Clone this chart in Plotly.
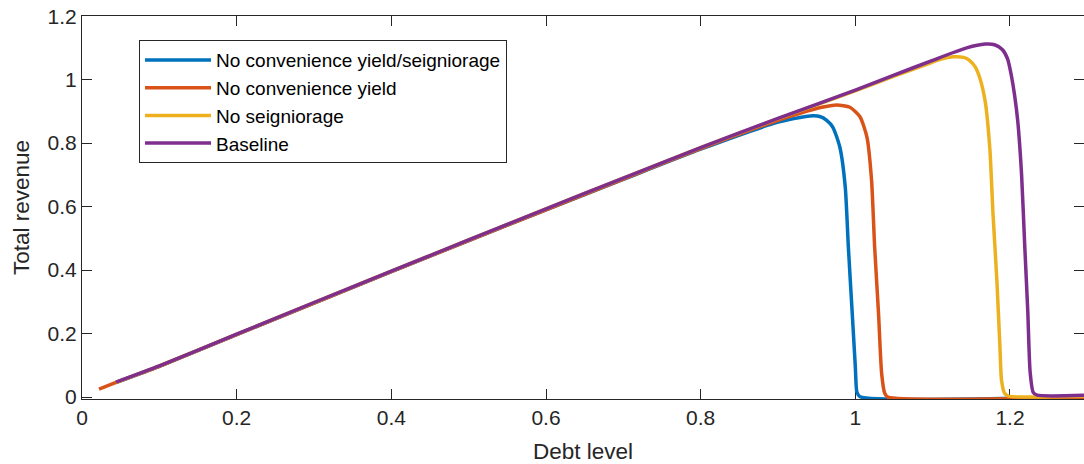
import plotly.graph_objects as go

# ---- data ----
blue_x = [0.044, 0.1, 0.2, 0.3, 0.4, 0.5, 0.6, 0.7, 0.8, 0.9, 0.9285, 0.945, 0.954, 0.963, 0.971, 0.980,
          0.987, 0.991, 0.996, 1.000, 1.002, 1.006, 1.3]
blue_y = [0.046, 0.097, 0.197, 0.296, 0.395, 0.493, 0.590, 0.686, 0.781, 0.866, 0.881, 0.886, 0.884, 0.872,
          0.850, 0.787, 0.661, 0.472, 0.264, 0.095, 0.016, 0.001, 0.001]

orange_x = [0.022, 0.044, 0.1, 0.2, 0.3, 0.4, 0.5, 0.6, 0.7, 0.8, 0.9, 0.9285, 0.955, 0.976, 0.993, 1.006,
            1.015, 1.021, 1.025, 1.030, 1.034, 1.038, 1.042, 1.3]
orange_y = [0.025, 0.046, 0.097, 0.197, 0.296, 0.395, 0.493, 0.590, 0.687, 0.783, 0.872, 0.894, 0.912,
            0.920, 0.913, 0.883, 0.819, 0.683, 0.472, 0.264, 0.075, 0.012, 0.0, 0.0]

yellow_x = [0.044, 0.1, 0.2, 0.3, 0.4, 0.5, 0.6, 0.7, 0.8, 0.9, 1.0, 1.05, 1.088, 1.11, 1.127, 1.140,
            1.148, 1.155, 1.161, 1.168, 1.174, 1.178, 1.183, 1.187, 1.189, 1.193, 1.198, 1.3]
yellow_y = [0.046, 0.098, 0.198, 0.298, 0.397, 0.495, 0.593, 0.690, 0.786, 0.877, 0.965, 1.011, 1.044,
            1.064, 1.072, 1.070, 1.060, 1.040, 1.005, 0.930, 0.780, 0.579, 0.369, 0.157, 0.054, 0.012,
            0.003, 0.003]

purple_x = [0.044, 0.1, 0.2, 0.3, 0.4, 0.5, 0.6, 0.7, 0.8, 0.9, 1.0, 1.05, 1.1, 1.144, 1.168, 1.180,
            1.190, 1.197, 1.202, 1.206, 1.210, 1.215, 1.219, 1.223, 1.226, 1.230, 1.235, 1.3]
purple_y = [0.047, 0.098, 0.198, 0.298, 0.397, 0.495, 0.593, 0.690, 0.786, 0.878, 0.967, 1.014, 1.061,
            1.100, 1.112, 1.110, 1.095, 1.065, 1.010, 0.950, 0.870, 0.700, 0.480, 0.270, 0.080, 0.015,
            0.006, 0.006]

series_names = ["No convenience yield/seigniorage", "No convenience yield", "No seigniorage", "Baseline"]
series_colors = ["#0072BD", "#D95319", "#EDB120", "#7E2F8E"]

tick_vals = [0, 0.2, 0.4, 0.6, 0.8, 1.0, 1.2]
x_tick_text = ["0", "0.2", "0.4", "0.6", "0.8", "1", "1.2"]
y_tick_text = ["0", "0.2", "0.4", "0.6", "0.8", "1", "1.2"]

AX = "#262626"
FONT = "Liberation Sans, Arial, sans-serif"

fig = go.Figure()
series = list(zip(series_names, series_colors,
                  [blue_x, orange_x, yellow_x, purple_x],
                  [blue_y, orange_y, yellow_y, purple_y]))
for i, (name, color, xs, ys) in enumerate(series):
    # last series (Baseline) sits on the overlaid right-hand axis: it is drawn on top,
    # and it makes the mirrored right-hand ticks appear
    fig.add_trace(go.Scatter(x=xs, y=ys, mode="lines", name=name,
                             yaxis="y2" if i == len(series) - 1 else "y",
                             line=dict(color=color, width=3.5, shape="spline", smoothing=0.6)))

yr = [-0.006, 1.2005]
fig.update_layout(
    width=1084, height=464,
    margin=dict(l=82, r=0, t=16, b=65, autoexpand=False),
    paper_bgcolor="white", plot_bgcolor="white",
    font=dict(family=FONT, size=20, color=AX),
    showlegend=True,
    legend=dict(x=0.0569, y=0.937, xanchor="left", yanchor="top",
                bordercolor=AX, borderwidth=1, bgcolor="white",
                font=dict(family=FONT, size=19, color="#000000"),
                itemwidth=66, traceorder="normal"),
    xaxis=dict(range=[0, 1.2957], tickmode="array", tickvals=tick_vals, ticktext=x_tick_text,
               ticks="inside", ticklen=10, tickwidth=1, tickcolor=AX,
               showline=True, linecolor=AX, linewidth=1, mirror="ticks",
               showgrid=False, zeroline=False, layer="below traces", automargin=False,
               tickfont=dict(size=21, color=AX),
               title=dict(text="Debt level", font=dict(size=22.5, color=AX), standoff=16)),
    yaxis=dict(range=yr, tickmode="array", tickvals=tick_vals, ticktext=y_tick_text,
               ticks="inside", ticklen=10, tickwidth=1, tickcolor=AX,
               showline=True, linecolor=AX, linewidth=1,
               showgrid=False, zeroline=False, layer="below traces", automargin=False,
               tickfont=dict(size=21, color=AX),
               title=dict(text="Total revenue", font=dict(size=22.5, color=AX), standoff=11)),
    yaxis2=dict(range=yr, overlaying="y", side="right", tickmode="array", tickvals=tick_vals,
                ticks="inside", ticklen=10, tickwidth=1, tickcolor=AX, automargin=False,
                layer="below traces",
                showticklabels=False, showline=False, showgrid=False, zeroline=False),
)
fig.write_html("out.html", config={"displayModeBar": False},
               post_script="document.body.style.margin='0';document.body.style.overflow='hidden';")
